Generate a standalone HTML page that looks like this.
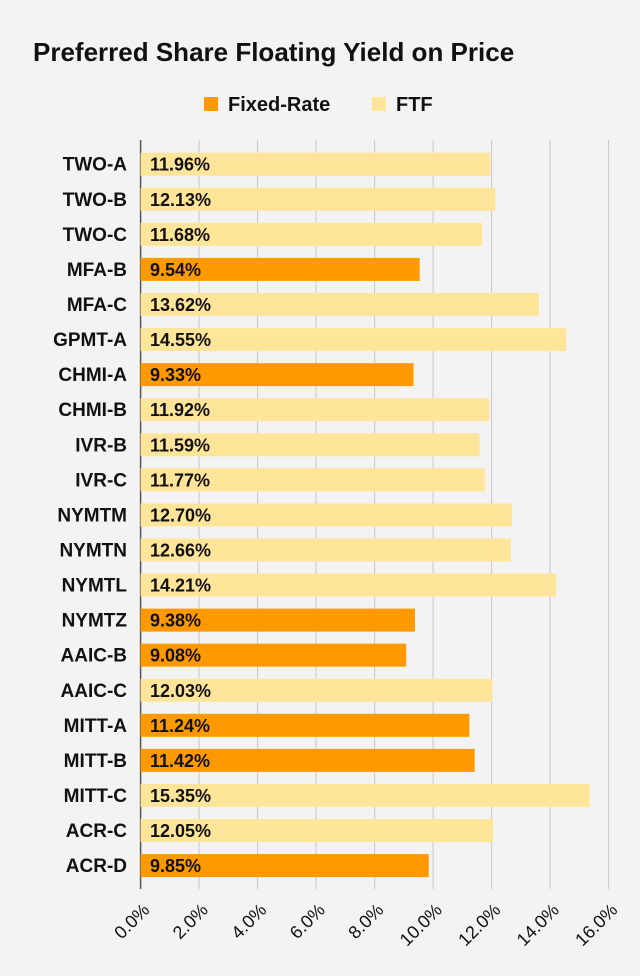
<!DOCTYPE html>
<html><head><meta charset="utf-8"><style>
body{margin:0;background:#f3f3f3;font-family:"Liberation Sans",sans-serif}
svg{display:block}
</style></head><body>
<svg width="640" height="976" id="c">
<rect width="640" height="976" fill="#f3f3f3"/>
<text x="33" y="61" font-size="26" font-weight="bold" fill="#111">Preferred Share Floating Yield on Price</text>
<g>
<rect x="204" y="97" width="14" height="14" fill="#ff9900"/>
<text x="228" y="111" font-size="20" font-weight="bold" fill="#111">Fixed-Rate</text>
<rect x="372" y="97" width="14" height="14" fill="#ffe599"/>
<text x="396" y="111" font-size="20" font-weight="bold" fill="#111">FTF</text>
</g>
<g id="grid"></g><g id="bars"></g><g id="ticks"></g>
</svg>
<script>
const categories=["TWO-A","TWO-B","TWO-C","MFA-B","MFA-C","GPMT-A","CHMI-A","CHMI-B","IVR-B","IVR-C","NYMTM","NYMTN","NYMTL","NYMTZ","AAIC-B","AAIC-C","MITT-A","MITT-B","MITT-C","ACR-C","ACR-D"];
const values=[11.96,12.13,11.68,9.54,13.62,14.55,9.33,11.92,11.59,11.77,12.70,12.66,14.21,9.38,9.08,12.03,11.24,11.42,15.35,12.05,9.85];
const types=["FTF","FTF","FTF","Fixed","FTF","FTF","Fixed","FTF","FTF","FTF","FTF","FTF","FTF","Fixed","Fixed","FTF","Fixed","Fixed","FTF","FTF","Fixed"];
const tickValues=[0,2,4,6,8,10,12,14,16];
const tickLabels=["0.0%","2.0%","4.0%","6.0%","8.0%","10.0%","12.0%","14.0%","16.0%"];
const NS="http://www.w3.org/2000/svg";
const x0=140.6,xMax=16,xW=608.6-140.6;
const xs=v=>x0+v/xMax*xW;
const yTop=152.7,pitch=35.07,bh=23;
const ys=i=>yTop+i*pitch;
const grid=document.getElementById('grid'),bars=document.getElementById('bars'),ticks=document.getElementById('ticks');
function mk(t,a,p){const e=document.createElementNS(NS,t);for(const k in a)e.setAttribute(k,a[k]);p.appendChild(e);return e;}
tickValues.forEach((t,i)=>{
 const l=mk('line',{x1:xs(t),x2:xs(t),y1:140,y2:889,stroke:i==0?'#555':'#c8c8c8','stroke-width':i==0?1.5:1},grid);
 
 
 const tx=mk('text',{x:0,y:0,'font-size':18,fill:'#111','text-anchor':'end',transform:`translate(${xs(t)+10},${911}) rotate(-45)`},ticks);
 tx.textContent=tickLabels[i];
 
 
});
categories.forEach((c,i)=>{
 const y=ys(i);
 const r=mk('rect',{x:x0,y:y,width:xs(values[i])-x0,height:bh,fill:types[i]=="Fixed"?'#ff9900':'#ffe599'},bars);
 
 
 const lb=mk('text',{x:127,y:y+18,'font-size':19,'font-weight':'bold',fill:'#111','text-anchor':'end'},bars);
 lb.textContent=c;
 
 
 const vt=mk('text',{x:150,y:y+18,'font-size':18,'font-weight':'bold',fill:'#111'},bars);
 vt.textContent=values[i].toFixed(2)+'%';
 
 
});
</script>
</body></html>
